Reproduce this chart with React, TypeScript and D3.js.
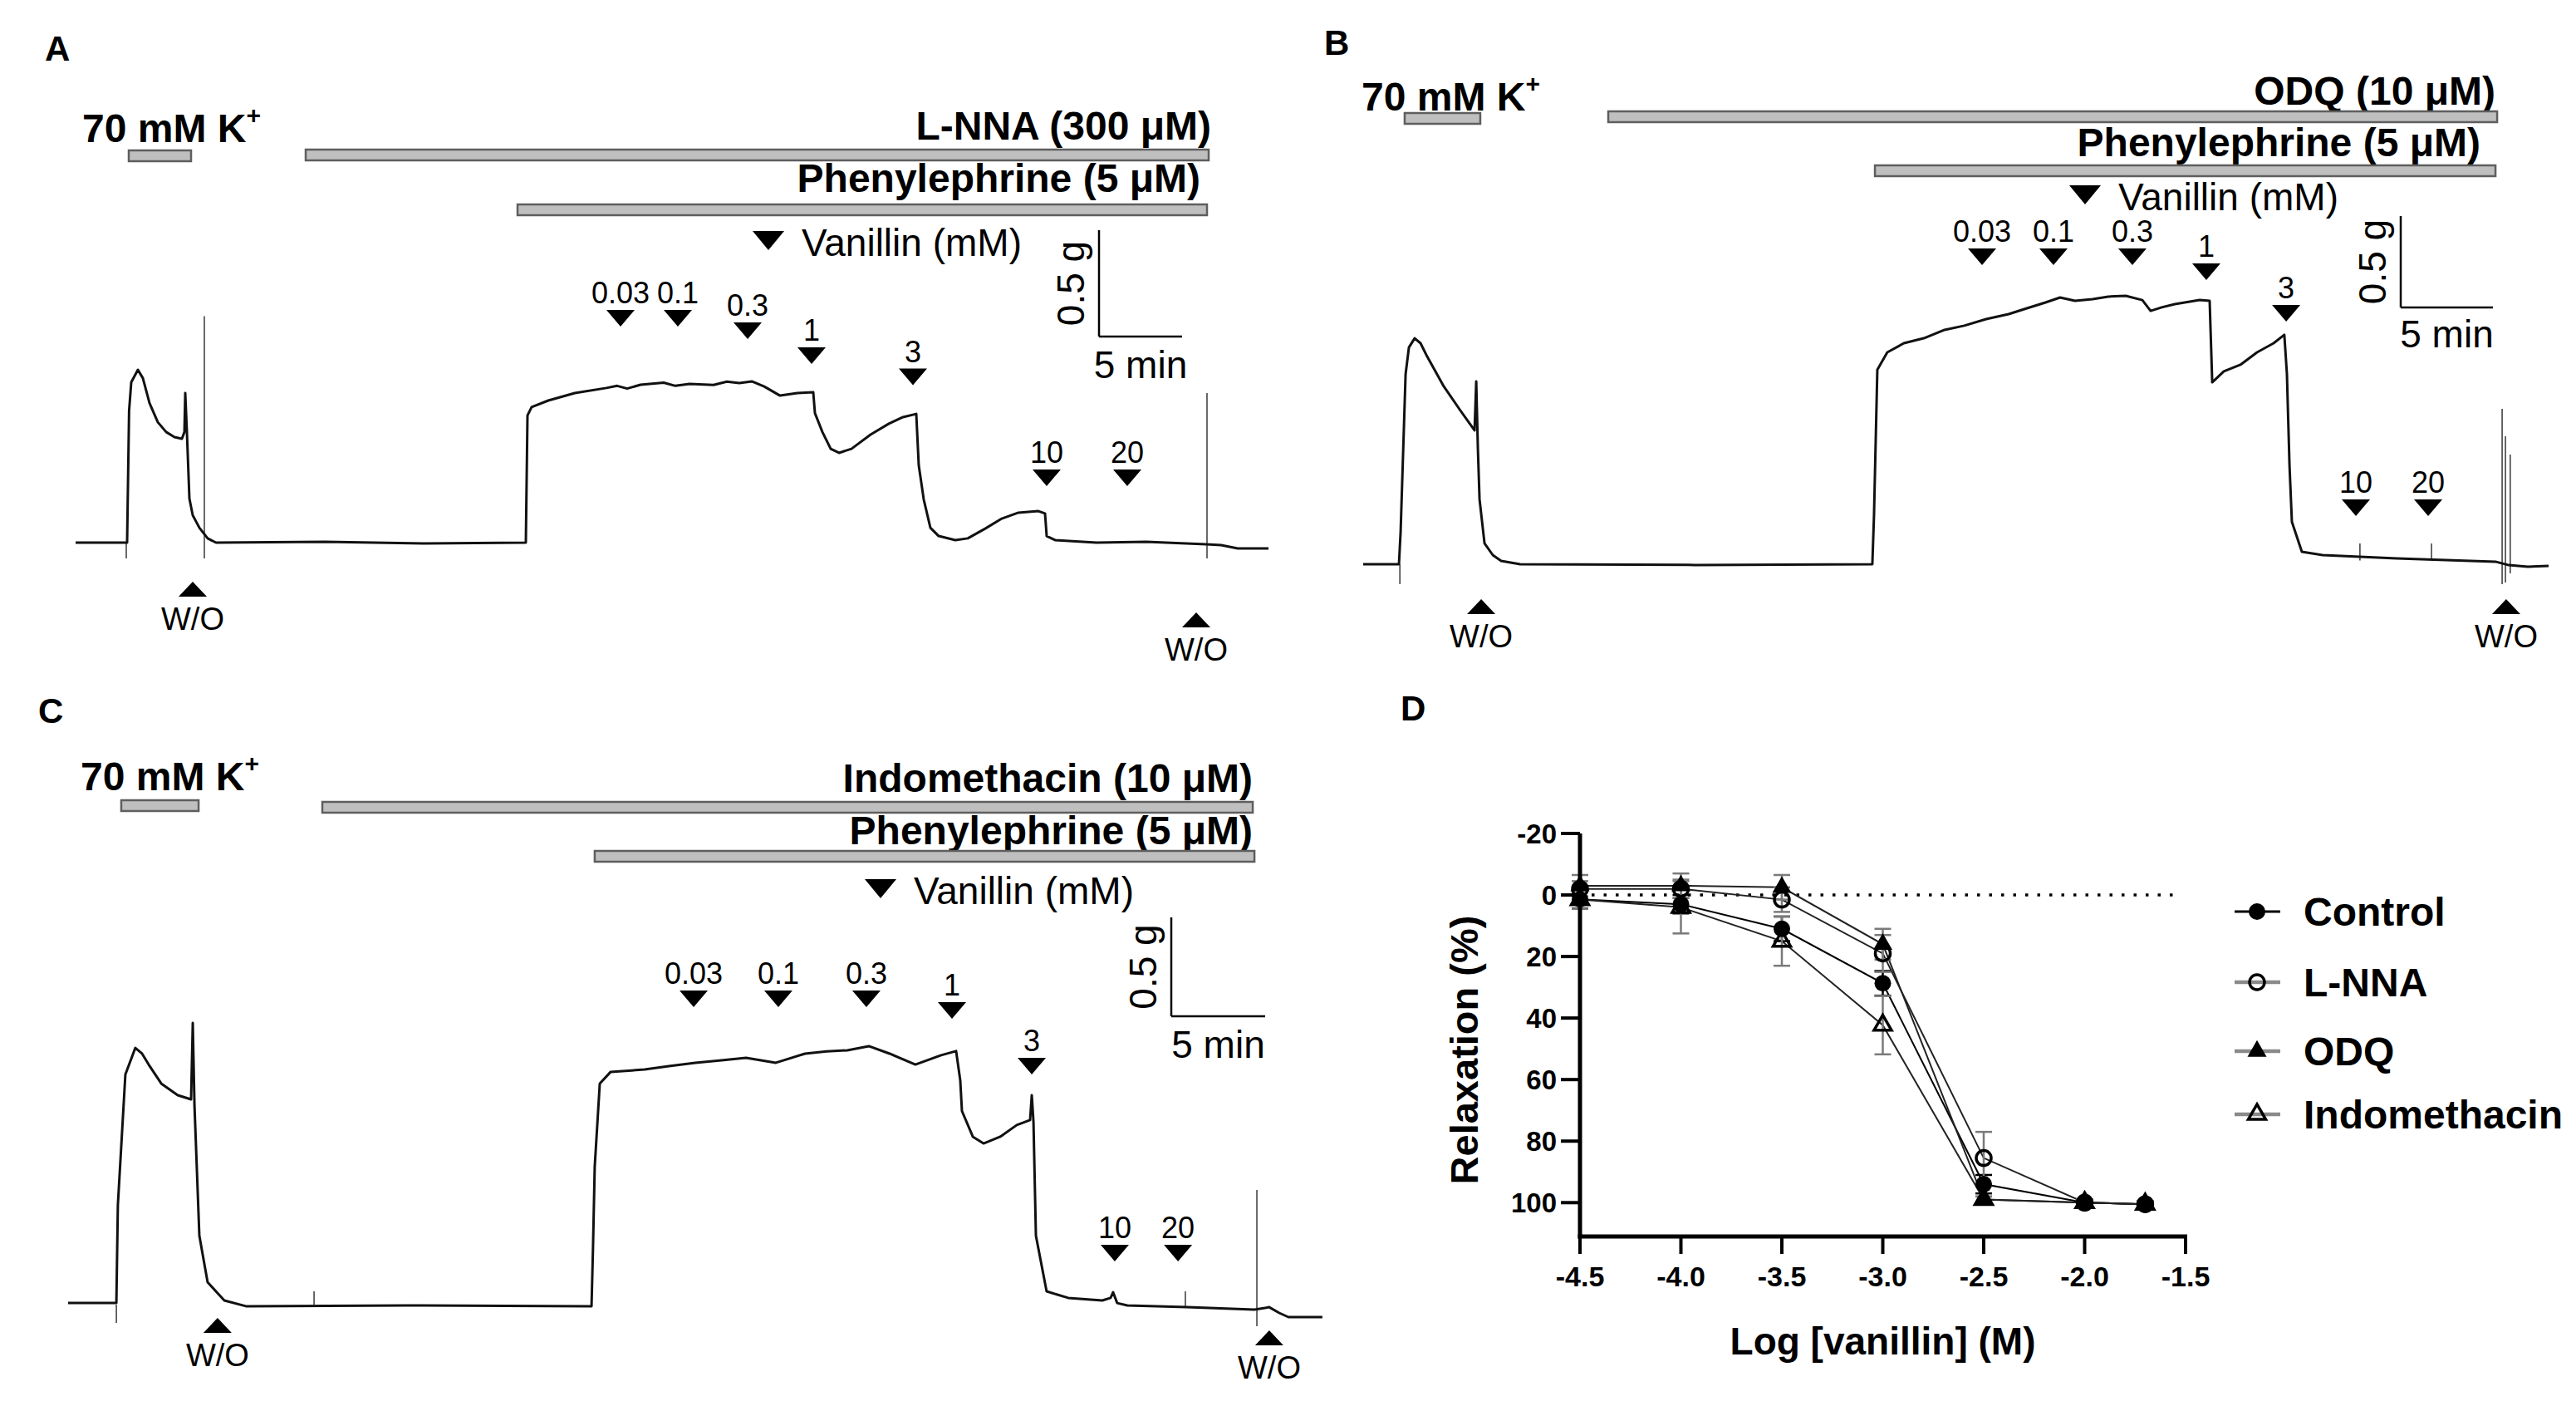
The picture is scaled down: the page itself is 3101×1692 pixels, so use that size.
import React from "react";
import * as d3 from "d3";

const FONT = "'Liberation Sans', Arial, Helvetica, sans-serif";

// ---------- Tension traces: [time (min), tension (g)] ----------
const traceA: [number, number][] = [
  [0, 0], [3.05, 0], [3.1, 0], [3.22, 0.62], [3.35, 0.754], [3.75, 0.8125], [4.05, 0.773], [4.45, 0.656],
  [4.95, 0.566], [5.45, 0.52], [5.95, 0.496], [6.4, 0.488], [6.55, 0.52], [6.6, 0.703], [6.7, 0.52],
  [6.85, 0.207], [7.05, 0.129], [7.45, 0.07], [7.95, 0.02], [8.45, 0], [15.0, 0.004], [21.0, -0.004], [27.1, 0],
  [27.2, 0.598], [27.45, 0.637], [28.45, 0.668], [30.05, 0.703], [31.95, 0.727], [32.6, 0.737], [33.2, 0.724],
  [34.0, 0.742], [35.4, 0.752], [36.1, 0.737], [36.95, 0.746], [38.4, 0.741], [39.2, 0.757], [39.95, 0.75],
  [40.7, 0.758], [41.45, 0.734], [42.4, 0.691], [43.45, 0.703], [44.4, 0.707], [44.5, 0.609], [44.95, 0.52],
  [45.45, 0.441], [45.95, 0.422], [46.7, 0.441], [47.85, 0.508], [48.95, 0.559], [49.8, 0.59], [50.6, 0.605],
  [50.75, 0.363], [51.05, 0.203], [51.45, 0.07], [51.95, 0.031], [52.95, 0.012], [53.7, 0.02], [54.75, 0.066],
  [55.75, 0.113], [56.75, 0.141], [57.95, 0.148], [58.35, 0.137], [58.45, 0.031], [58.95, 0.012], [61.45, 0],
  [64.45, 0.004], [68.05, -0.008], [68.95, -0.012], [69.95, -0.027], [71.8, -0.027],
];
const traceB: [number, number][] = [
  [0, 0], [1.94, 0], [2.03, 0.177], [2.3, 1.04], [2.48, 1.186], [2.79, 1.236], [3.11, 1.209], [3.47, 1.136],
  [4.37, 0.973], [5.27, 0.841], [6.04, 0.732], [6.13, 1.0], [6.22, 0.632], [6.31, 0.355], [6.58, 0.114],
  [7.03, 0.05], [7.48, 0.018], [8.51, 0], [18.0, -0.004], [27.61, 0], [27.7, 0.268], [27.88, 1.064],
  [28.42, 1.159], [29.32, 1.209], [30.4, 1.236], [31.53, 1.282], [32.6, 1.305], [33.78, 1.341], [35.0, 1.368],
  [35.99, 1.4], [37.0, 1.432], [37.79, 1.459], [38.6, 1.441], [39.55, 1.45], [40.4, 1.464], [41.35, 1.468],
  [42.25, 1.445], [42.7, 1.386], [43.3, 1.405], [44.01, 1.423], [45.36, 1.445], [45.9, 1.441], [46.04, 0.995],
  [46.67, 1.055], [47.57, 1.091], [48.47, 1.159], [49.37, 1.209], [49.95, 1.255], [50.09, 1.041], [50.23, 0.541],
  [50.36, 0.232], [50.9, 0.068], [52.03, 0.05], [56.04, 0.032], [61.4, 0.014], [62.12, -0.005], [63.15, -0.014],
  [64.28, -0.009],
];
const traceC: [number, number][] = [
  [0, 0.008], [2.57, 0.008], [2.65, 0.504], [3.05, 1.164], [3.58, 1.298], [3.94, 1.269], [4.29, 1.214],
  [4.96, 1.118], [5.84, 1.059], [6.55, 1.038], [6.64, 1.424], [6.73, 1.008], [6.99, 0.349], [7.43, 0.113],
  [8.32, 0.021], [9.47, -0.008], [18.0, -0.004], [27.88, -0.008], [27.96, 0.294], [28.05, 0.697], [28.32, 1.118],
  [28.89, 1.176], [30.71, 1.189], [32.0, 1.206], [33.41, 1.223], [34.8, 1.235], [36.11, 1.248], [37.7, 1.223],
  [39.25, 1.269], [40.4, 1.28], [41.5, 1.286], [42.65, 1.307], [43.76, 1.269], [45.13, 1.214], [46.5, 1.261],
  [47.3, 1.282], [47.52, 1.134], [47.61, 0.979], [48.19, 0.849], [48.76, 0.815], [49.65, 0.849], [50.53, 0.908],
  [51.24, 0.933], [51.33, 1.059], [51.42, 0.924], [51.55, 0.349], [52.12, 0.067], [53.27, 0.034], [55.09, 0.021],
  [55.53, 0.034], [55.66, 0.063], [55.88, 0.008], [56.42, -0.004], [59.6, -0.013], [63.19, -0.025],
  [63.98, -0.013], [64.51, -0.042], [65.0, -0.063], [66.81, -0.063],
];

// thin artefact spikes: [time, top g, bottom g]
const spikesA: [number, number, number][] = [[3.05, 0, -0.074], [7.75, 1.064, -0.074], [68.1, 0.703, -0.074]];
const spikesB: [number, number, number][] = [
  [1.99, 0, -0.109], [54.05, 0.114, 0.02], [57.93, 0.114, 0.02],
  [61.76, 0.85, -0.109], [61.94, 0.7, -0.1], [62.2, 0.6, -0.05],
];
const spikesC: [number, number, number][] = [
  [2.57, 0, -0.092], [13.1, 0.067, 0], [59.51, 0.067, -0.01], [63.32, 0.58, -0.109],
];

// vanillin additions (mM)
const doseLabels = ["0.03", "0.1", "0.3", "1", "3", "10", "20"];
const doseTimesA = [32.8, 36.25, 40.45, 44.3, 50.4, 58.45, 63.3];
const doseLevelsA = [1.016, 1.016, 0.957, 0.84, 0.74, 0.266, 0.266];
const doseTimesB = [33.56, 37.43, 41.71, 45.72, 50.05, 53.83, 57.75];
const doseLevelsB = [1.636, 1.636, 1.636, 1.555, 1.327, 0.264, 0.264];
const doseTimesC = [33.32, 37.83, 42.52, 47.08, 51.33, 55.75, 59.12];
const doseLevelsC = [1.504, 1.504, 1.504, 1.445, 1.164, 0.218, 0.218];

// wash-outs
const washTimesA = [7.05, 67.45];
const washLevelsA = [-0.184, -0.328];
const washTimesB = [6.4, 61.98];
const washLevelsB = [-0.191, -0.191];
const washTimesC = [7.96, 63.98];
const washLevelsC = [-0.067, -0.13];

// drug application periods [start, end] (min)
const kBarA = [3.2, 6.95];
const inhBarA = [13.85, 68.2];
const peBarA = [26.6, 68.1];
const kBarB = [2.25, 6.35];
const inhBarB = [13.29, 61.49];
const peBarB = [27.75, 61.4];
const kBarC = [2.83, 6.95];
const inhBarC = [13.54, 63.1];
const peBarC = [28.05, 63.19];

// ---------- Panel D: concentration-response ----------
const logConc = [-4.5, -4.0, -3.5, -3.0, -2.5, -2.0, -1.7];
const seriesNames = ["Control", "L-NNA", "ODQ", "Indomethacin"];
const controlMean = [1.4, 3, 11, 28.7, 94, 100, 100.5];
const controlSem = [3, 3, 4, 4, 3, 1, 1];
const lnnaMean = [-2, -2, 1.5, 19, 85.5, 100, 100.5];
const lnnaSem = [2.5, 3, 4, 6, 8.5, 1, 1];
const odqMean = [-3, -3, -2.5, 16, 99, 100, 100.5];
const odqSem = [3.5, 4, 4, 5, 1, 1, 1];
const indoMean = [1.5, 4, 15, 42.3, 99, 100, 100.5];
const indoSem = [3, 8.5, 8, 9.5, 1, 1, 1];
const xTicksD = [-4.5, -4.0, -3.5, -3.0, -2.5, -2.0, -1.5];
const yTicksD = [-20, 0, 20, 40, 60, 80, 100];

type Pt = [number, number];

function downTri(x: number, y: number, w: number, h: number) {
  return `M${x - w / 2},${y - h}L${x + w / 2},${y - h}L${x},${y}Z`;
}
function upTri(x: number, y: number, w: number, h: number) {
  return `M${x - w / 2},${y + h}L${x + w / 2},${y + h}L${x},${y}Z`;
}

type PanelProps = {
  x0: number; y0: number; ppm: number; ppg: number;
  trace: Pt[]; spikes: [number, number, number][];
  doseTimes: number[]; doseLevels: number[];
  washTimes: number[]; washLevels: number[];
  bars: { span: number[]; y: number }[];
  scaleCorner: [number, number];
  gLabelX: number; minLabelY: number;
};

function TracePanel(p: PanelProps) {
  const xs = d3.scaleLinear().domain([0, 10]).range([p.x0, p.x0 + 10 * p.ppm]);
  const ys = d3.scaleLinear().domain([0, 1]).range([p.y0, p.y0 - p.ppg]);
  const line = d3.line<Pt>().x((d) => xs(d[0])).y((d) => ys(d[1]));
  const [cx, cy] = p.scaleCorner;
  const len5 = xs(5) - xs(0);
  const len05 = ys(0) - ys(0.5);
  return (
    <g>
      {p.bars.map((b, i) => (
        <rect key={i} x={xs(b.span[0])} y={b.y} width={xs(b.span[1]) - xs(b.span[0])} height={13}
          fill="#bfbfbf" stroke="#5e5e5e" strokeWidth={2.5} />
      ))}
      {p.spikes.map((s, i) => (
        <line key={i} x1={xs(s[0])} x2={xs(s[0])} y1={ys(s[1])} y2={ys(s[2])} stroke="#444" strokeWidth={1.6} />
      ))}
      <path d={line(p.trace) || ""} fill="none" stroke="#111" strokeWidth={3} strokeLinejoin="round" />
      {p.doseTimes.map((t, i) => {
        const x = xs(t);
        const y = ys(p.doseLevels[i]);
        return (
          <g key={i}>
            <path d={downTri(x, y, 34, 20)} fill="#000" />
            <text x={x} y={y - 28} textAnchor="middle" fontSize={36} fontFamily={FONT}>{doseLabels[i]}</text>
          </g>
        );
      })}
      {p.washTimes.map((t, i) => {
        const x = xs(t);
        const y = ys(p.washLevels[i]);
        return (
          <g key={i}>
            <path d={upTri(x, y, 34, 18)} fill="#000" />
            <text x={x} y={y + 58} textAnchor="middle" fontSize={38} fontFamily={FONT}>W/O</text>
          </g>
        );
      })}
      <line x1={cx} x2={cx} y1={cy - len05} y2={cy} stroke="#000" strokeWidth={2.5} />
      <line x1={cx} x2={cx + len5} y1={cy} y2={cy} stroke="#000" strokeWidth={2.5} />
      <text transform={`translate(${p.gLabelX},${cy - len05 / 2}) rotate(-90)`} textAnchor="middle"
        fontSize={46} fontFamily={FONT}>0.5 g</text>
      <text x={cx + len5 / 2} y={p.minLabelY} textAnchor="middle" fontSize={46} fontFamily={FONT}>5 min</text>
    </g>
  );
}

function KLabel({ x, y }: { x: number; y: number }) {
  return (
    <text x={x} y={y} fontSize={48} fontWeight="bold" fontFamily={FONT}>
      70 mM K<tspan fontSize={30} dy={-22}>+</tspan>
    </text>
  );
}

function Header({ x, y, text }: { x: number; y: number; text: string }) {
  return <text x={x} y={y} textAnchor="end" fontSize={48} fontWeight="bold" fontFamily={FONT}>{text}</text>;
}

function VanillinKey({ x, y }: { x: number; y: number }) {
  return (
    <g>
      <path d={downTri(x, y, 38, 23)} fill="#000" />
      <text x={x + 40} y={y + 7} fontSize={46} fontFamily={FONT}>Vanillin (mM)</text>
    </g>
  );
}

function PanelLetter({ x, y, t }: { x: number; y: number; t: string }) {
  return <text x={x} y={y} fontSize={42} fontWeight="bold" fontFamily={FONT}>{t}</text>;
}

const fmt1 = (v: number) => v.toFixed(1);

function Marker({ kind, x, y }: { kind: number; x: number; y: number }) {
  if (kind === 0) return <circle cx={x} cy={y} r={10} fill="#000" />;
  if (kind === 1) return <circle cx={x} cy={y} r={9} fill="none" stroke="#000" strokeWidth={3.5} />;
  const tri = d3.symbol().type(d3.symbolTriangle).size(kind === 2 ? 230 : 190)();
  if (kind === 2) return <path d={tri || ""} transform={`translate(${x},${y})`} fill="#000" />;
  return <path d={tri || ""} transform={`translate(${x},${y})`} fill="none" stroke="#000" strokeWidth={3.5} />;
}

function PanelD() {
  const xD = d3.scaleLinear().domain([-4.5, -1.5]).range([1902, 2631]);
  const yD = d3.scaleLinear().domain([-20, 111]).range([1003, 1488]);
  const means = [controlMean, lnnaMean, odqMean, indoMean];
  const sems = [controlSem, lnnaSem, odqSem, indoSem];
  const lineColors = ["#000", "#222", "#222", "#222"];
  const errColors = ["#000", "#7a7a7a", "#7a7a7a", "#7a7a7a"];
  const legendLine = ["#000", "#8a8a8a", "#8a8a8a", "#8a8a8a"];
  const legendY = [1097, 1182, 1265, 1341];
  const line = d3.line<number>().x((_, i) => xD(logConc[i])).y((d) => yD(d));
  const axisY = yD(111);
  return (
    <g fontFamily={FONT}>
      <line x1={xD(-4.5) + 14} x2={2620} y1={yD(0)} y2={yD(0)} stroke="#000" strokeWidth={3.5} strokeDasharray="3.5 11" />
      {means.map((m, s) => (
        <path key={s} d={line(m) || ""} fill="none" stroke={lineColors[s]} strokeWidth={2} />
      ))}
      {means.map((m, s) => (
        <g key={s}>
          {m.map((v, i) => {
            const x = xD(logConc[i]);
            const lo = yD(v - sems[s][i]);
            const hi = yD(v + sems[s][i]);
            return (
              <g key={i} stroke={errColors[s]} strokeWidth={2.5}>
                <line x1={x} x2={x} y1={lo} y2={hi} />
                <line x1={x - 10} x2={x + 10} y1={lo} y2={lo} />
                <line x1={x - 10} x2={x + 10} y1={hi} y2={hi} />
              </g>
            );
          })}
        </g>
      ))}
      {means.map((m, s) => (
        <g key={s}>
          {m.map((v, i) => <Marker key={i} kind={s} x={xD(logConc[i])} y={yD(v)} />)}
        </g>
      ))}
      {/* axes */}
      <line x1={xD(-4.5)} x2={xD(-4.5)} y1={yD(-20)} y2={axisY + 2.5} stroke="#000" strokeWidth={5} />
      <line x1={xD(-4.5) - 2.5} x2={xD(-1.5) + 2} y1={axisY} y2={axisY} stroke="#000" strokeWidth={5} />
      {yTicksD.map((t) => (
        <g key={t}>
          <line x1={xD(-4.5) - 23} x2={xD(-4.5)} y1={yD(t)} y2={yD(t)} stroke="#000" strokeWidth={4} />
          <text x={xD(-4.5) - 28} y={yD(t) + 12} textAnchor="end" fontSize={33} fontWeight="bold">{t}</text>
        </g>
      ))}
      {xTicksD.map((t) => (
        <g key={t}>
          <line x1={xD(t)} x2={xD(t)} y1={axisY} y2={axisY + 21} stroke="#000" strokeWidth={4} />
          <text x={xD(t)} y={axisY + 60} textAnchor="middle" fontSize={34} fontWeight="bold">{fmt1(t)}</text>
        </g>
      ))}
      <text transform={`translate(1779,${(yD(-20) + yD(111)) / 2 + 18}) rotate(-90)`} textAnchor="middle"
        fontSize={47} fontWeight="bold">Relaxation (%)</text>
      <text x={(xD(-4.5) + xD(-1.5)) / 2} y={1630} textAnchor="middle" fontSize={46} fontWeight="bold">
        Log [vanillin] (M)
      </text>
      {/* legend */}
      {seriesNames.map((n, s) => (
        <g key={n}>
          <line x1={2690} x2={2745} y1={legendY[s]} y2={legendY[s]} stroke={legendLine[s]} strokeWidth={s === 0 ? 3 : 4.5} />
          <Marker kind={s} x={2717} y={legendY[s]} />
          <text x={2773} y={legendY[s] + 17} fontSize={48} fontWeight="bold">{n}</text>
        </g>
      ))}
    </g>
  );
}

export default function App() {
  return (
    <svg width={3101} height={1692} viewBox="0 0 3101 1692"
      style={{ position: "absolute", left: 0, top: 0, background: "#fff" }}>
      <rect x={0} y={0} width={3101} height={1692} fill="#fff" />
      {/* Panel A */}
      <PanelLetter x={54} y={73} t="A" />
      <KLabel x={99} y={171} />
      <Header x={1458} y={168} text="L-NNA (300 μM)" />
      <Header x={1445} y={231} text="Phenylephrine (5 μM)" />
      <VanillinKey x={925} y={301} />
      <TracePanel x0={91} y0={653} ppm={20} ppg={256} trace={traceA} spikes={spikesA}
        doseTimes={doseTimesA} doseLevels={doseLevelsA} washTimes={washTimesA} washLevels={washLevelsA}
        bars={[{ span: kBarA, y: 181 }, { span: inhBarA, y: 180 }, { span: peBarA, y: 246 }]}
        scaleCorner={[1323, 405]} gLabelX={1305} minLabelY={455} />
      {/* Panel B */}
      <PanelLetter x={1594} y={66} t="B" />
      <KLabel x={1639} y={133} />
      <Header x={3004} y={126} text="ODQ (10 μM)" />
      <Header x={2986} y={188} text="Phenylephrine (5 μM)" />
      <VanillinKey x={2510} y={246} />
      <TracePanel x0={1641} y0={679} ppm={22.2} ppg={220} trace={traceB} spikes={spikesB}
        doseTimes={doseTimesB} doseLevels={doseLevelsB} washTimes={washTimesB} washLevels={washLevelsB}
        bars={[{ span: kBarB, y: 136 }, { span: inhBarB, y: 134 }, { span: peBarB, y: 199 }]}
        scaleCorner={[2890, 370]} gLabelX={2872} minLabelY={418} />
      {/* Panel C */}
      <PanelLetter x={46} y={870} t="C" />
      <KLabel x={97} y={951} />
      <Header x={1508} y={953} text="Indomethacin (10 μM)" />
      <Header x={1508} y={1016} text="Phenylephrine (5 μM)" />
      <VanillinKey x={1060} y={1081} />
      <TracePanel x0={82} y0={1570} ppm={22.6} ppg={238} trace={traceC} spikes={spikesC}
        doseTimes={doseTimesC} doseLevels={doseLevelsC} washTimes={washTimesC} washLevels={washLevelsC}
        bars={[{ span: kBarC, y: 963 }, { span: inhBarC, y: 965 }, { span: peBarC, y: 1024 }]}
        scaleCorner={[1410, 1223]} gLabelX={1392} minLabelY={1273} />
      {/* Panel D */}
      <PanelLetter x={1686} y={867} t="D" />
      <PanelD />
    </svg>
  );
}
